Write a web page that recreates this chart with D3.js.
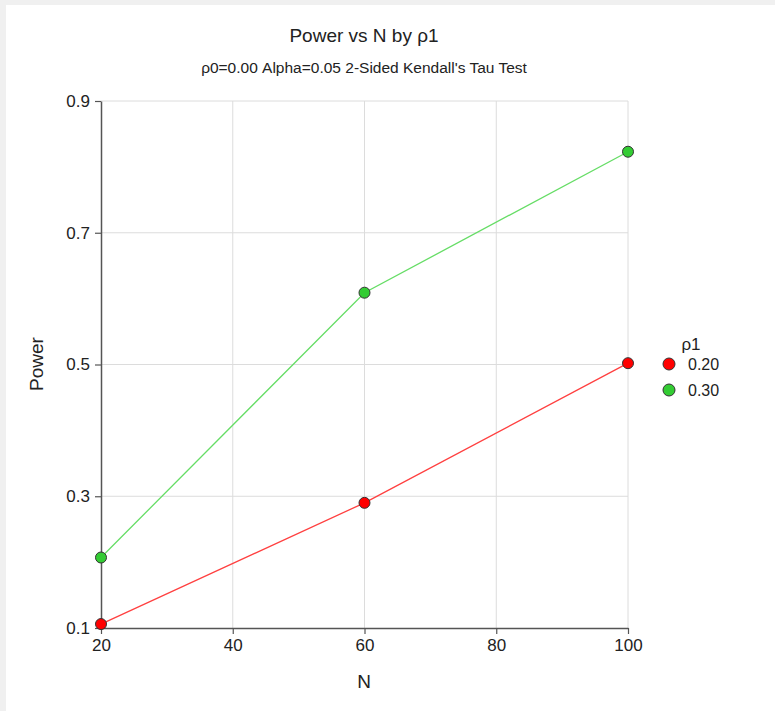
<!DOCTYPE html>
<html>
<head>
<meta charset="UTF-8">
<title>Power vs N by ρ1</title>
<script src="https://cdn.jsdelivr.net/npm/d3@7"></script>
<style>
  html, body { margin: 0; padding: 0; background: #f0f0f0; }
  #chart { position: absolute; left: 6px; top: 5px; }
  text { font-family: "Liberation Sans", Arial, sans-serif; fill: #222; }
</style>
</head>
<body>
<div id="chart"></div>
<script>
// data
const nValues = [20, 60, 100];
const rho1Labels = ["0.20", "0.30"];
const power020 = [0.106, 0.290, 0.502];
const power030 = [0.207, 0.609, 0.823];
const xTicks = [20, 40, 60, 80, 100];
const yTicks = [0.1, 0.3, 0.5, 0.7, 0.9];

const colors = ["#ff0000", "#33cc33"];
const lineColors = ["#ff4040", "#66dd66"];

const W = 775, H = 711, ox = 6, oy = 5;
const svg = d3.select("#chart").append("svg")
  .attr("width", W - ox).attr("height", H - oy)
  .style("background", "#fff");

// everything below in page coords
const g = svg.append("g").attr("transform", `translate(${-ox},${-oy})`);

const x = d3.scaleLinear().domain([20, 100]).range([101, 628]);
const y = d3.scaleLinear().domain([0.1, 0.9]).range([628, 101]);

// grid
g.append("g").selectAll("line").data(xTicks.slice(1)).join("line")
  .attr("x1", d => x(d)).attr("x2", d => x(d))
  .attr("y1", y(0.9)).attr("y2", y(0.1))
  .attr("stroke", "#dcdcdc").attr("stroke-width", 1);
g.append("g").selectAll("line").data(yTicks.slice(1)).join("line")
  .attr("x1", x(20)).attr("x2", x(100))
  .attr("y1", d => y(d)).attr("y2", d => y(d))
  .attr("stroke", "#dcdcdc").attr("stroke-width", 1);

// axes
const xAxis = g.append("g").attr("transform", `translate(0,${y(0.1)})`)
  .call(d3.axisBottom(x).tickValues(xTicks).tickSize(6).tickSizeOuter(0).tickPadding(5));
const yAxis = g.append("g").attr("transform", `translate(${x(20)},0)`)
  .call(d3.axisLeft(y).tickValues(yTicks).tickFormat(d3.format(".1f")).tickSize(6).tickSizeOuter(0).tickPadding(5));
[xAxis, yAxis].forEach(a => {
  a.select(".domain").attr("stroke", "#555").attr("stroke-width", 1.5);
  a.selectAll(".tick line").attr("stroke", "#555").attr("stroke-width", 1.2);
  a.selectAll(".tick text").attr("font-size", 17).attr("fill", "#222")
    .style("font-family", "'Liberation Sans', Arial, sans-serif");
});

// series
const series = [power020, power030];
const line = d3.line().x((d, i) => x(nValues[i])).y(d => y(d));
series.forEach((s, k) => {
  g.append("path").datum(s).attr("d", line)
    .attr("fill", "none").attr("stroke", lineColors[k]).attr("stroke-width", 1.3);
});
series.forEach((s, k) => {
  g.append("g").selectAll("circle").data(s).join("circle")
    .attr("cx", (d, i) => x(nValues[i])).attr("cy", d => y(d))
    .attr("r", 5.5).attr("fill", colors[k])
    .attr("stroke", "#333").attr("stroke-width", 1);
});

// titles
g.append("text").attr("x", 364).attr("y", 42).attr("text-anchor", "middle")
  .attr("font-size", 19).text("Power vs N by ρ1");
g.append("text").attr("x", 364).attr("y", 73).attr("text-anchor", "middle")
  .attr("font-size", 15.5).text("ρ0=0.00 Alpha=0.05 2-Sided Kendall's Tau Test");
g.append("text").attr("x", 364).attr("y", 688).attr("text-anchor", "middle")
  .attr("font-size", 19).text("N");
g.append("text").attr("transform", "translate(43,364) rotate(-90)")
  .attr("text-anchor", "middle").attr("font-size", 19).text("Power");

// legend
const lg = g.append("g");
lg.append("text").attr("x", 691).attr("y", 350).attr("text-anchor", "middle")
  .attr("font-size", 17).text("ρ1");
rho1Labels.forEach((lab, k) => {
  const yy = 364 + k * 26;
  lg.append("circle").attr("cx", 669).attr("cy", yy).attr("r", 6)
    .attr("fill", colors[k]).attr("stroke", "#333").attr("stroke-width", 1);
  lg.append("text").attr("x", 688).attr("y", yy + 5.5).attr("font-size", 16).text(lab);
});
</script>
</body>
</html>
